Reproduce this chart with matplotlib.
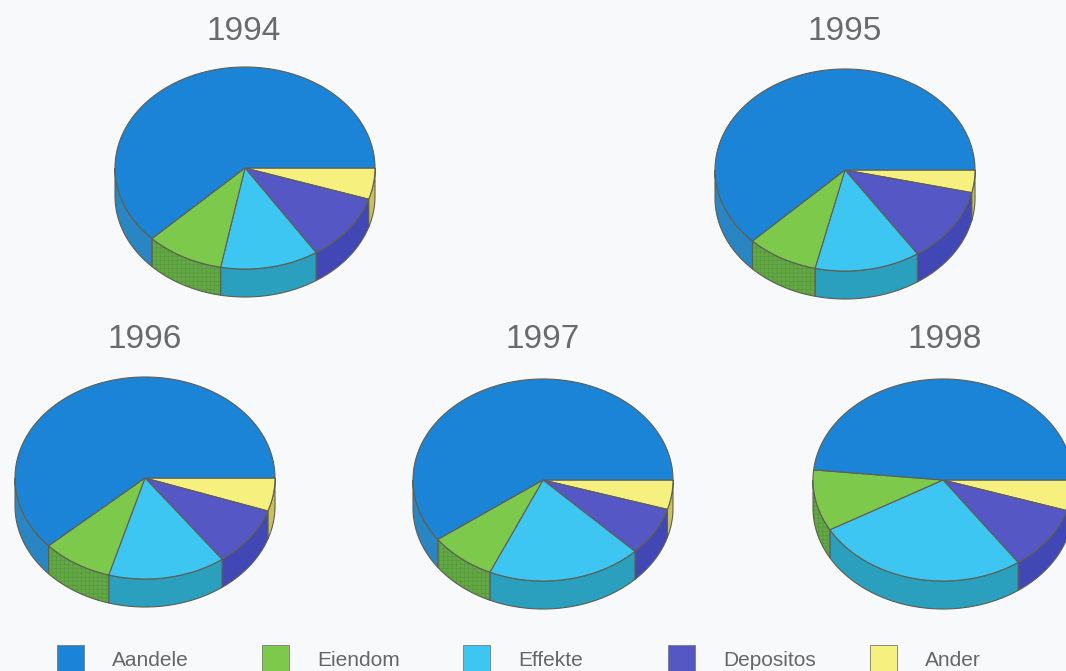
import numpy as np
import matplotlib.pyplot as plt
from matplotlib.patches import Polygon, Rectangle

plt.rcParams['font.family'] = ['Liberation Sans', 'DejaVu Sans']
plt.rcParams['hatch.linewidth'] = 0.4

years = ['1994', '1995', '1996', '1997', '1998']
categories = ['Aandele', 'Eiendom', 'Effekte', 'Depositos', 'Ander']

# share of portfolio (%) per year
aandele = [62.3, 62.4, 61.7, 60.0, 48.4]
eiendom = [9.7, 8.9, 8.8, 8.3, 9.8]
effekte = [12.2, 13.1, 14.6, 19.2, 26.6]
depositos = [10.8, 12.0, 9.6, 7.8, 10.3]
ander = [5.0, 3.6, 5.3, 4.7, 4.9]

top_colors = ['#1c84d6', '#7cc94c', '#3ec6f2', '#5558c4', '#f6f07e']
side_colors = ['#2a86c2', '#62a844', '#2a9fbe', '#4247b6', '#c9c25c']
edge = '#5e5e52'

# layout in pixels (y grows downward)
W, H = 1066, 671
centres = [(245, 168), (845, 170), (145, 478), (543, 480), (943, 480)]
title_pos = [(244, 31), (845, 31), (145, 340), (543, 340), (945, 340)]
RX, RY, DEPTH = 130, 101, 28


def pie3d(ax, cx, cy, values):
    # slices run clockwise from 3 o'clock, last category first
    vals = np.array(values, dtype=float)[::-1]
    tops = top_colors[::-1]
    sides = side_colors[::-1]
    cats = categories[::-1]
    bounds = np.concatenate([[0], np.cumsum(vals) / vals.sum() * 360])

    # front rim first
    for i in range(len(vals)):
        lo, hi = max(bounds[i], 0), min(bounds[i + 1], 180)
        if hi <= lo:
            continue
        t = np.radians(np.linspace(lo, hi, 80))
        x = cx + RX * np.cos(t)
        y = cy + RY * np.sin(t)
        pts = np.column_stack([np.r_[x, x[::-1]], np.r_[y, y[::-1] + DEPTH]])
        ax.add_patch(Polygon(pts, closed=True, fc=sides[i], ec=edge, lw=0.8))
        if cats[i] == 'Eiendom':
            ax.add_patch(Polygon(pts, closed=True, fill=False, hatch='++++',
                                 ec=(0.25, 0.45, 0.2, 0.35), lw=0))

    # top faces
    for i in range(len(vals)):
        t = np.radians(np.linspace(bounds[i], bounds[i + 1], 120))
        x = np.r_[cx, cx + RX * np.cos(t)]
        y = np.r_[cy, cy + RY * np.sin(t)]
        ax.add_patch(Polygon(np.column_stack([x, y]), closed=True,
                             fc=tops[i], ec=edge, lw=0.8))


fig = plt.figure(figsize=(W / 100, H / 100), dpi=100)
fig.patch.set_facecolor('#f8f9fb')
ax = fig.add_axes([0, 0, 1, 1])
ax.set_xlim(0, W)
ax.set_ylim(H, 0)
ax.axis('off')

for k, yr in enumerate(years):
    vals = [aandele[k], eiendom[k], effekte[k], depositos[k], ander[k]]
    cx, cy = centres[k]
    pie3d(ax, cx, cy, vals)
    tx, ty = title_pos[k]
    ax.text(tx, ty, yr, ha='center', va='center', fontsize=24, color='#6a6a6a')

# legend along the bottom
leg_x = [57, 262, 463, 668, 870]
for x0, name, col in zip(leg_x, categories, top_colors):
    ax.add_patch(Rectangle((x0, 645), 27, 28, fc=col, ec='#7a7a7a', lw=0.6))
    ax.text(x0 + 55, 666, name, ha='left', va='baseline', fontsize=15,
            color='#666666')

plt.savefig('out.png', dpi=100, facecolor=fig.get_facecolor())
